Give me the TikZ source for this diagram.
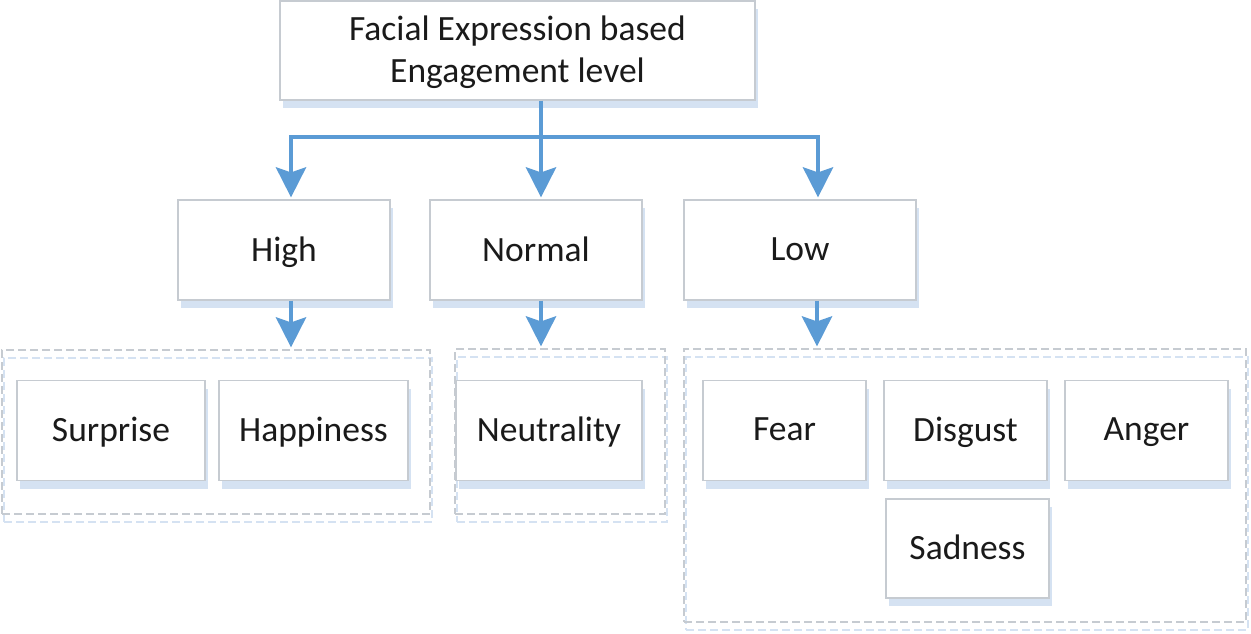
\documentclass[tikz,border=0pt]{standalone}
\usepackage{fontspec}
\setmainfont{Carlito}
\usepackage{xcolor}
\usetikzlibrary{arrows.meta,shadows}
\definecolor{arrowblue}{HTML}{5B9BD5}
\definecolor{shadowblue}{HTML}{D5E2F2}
\definecolor{boxgray}{HTML}{C6CBD1}
\definecolor{textblack}{HTML}{1A1A1A}

\begin{document}
\begin{tikzpicture}[x=1pt,y=-1pt,
  catbox/.style={draw=boxgray,line width=1.2pt,fill=white,inner sep=0pt,
    minimum height=100pt,align=center,text=textblack,
    font=\fontsize{35.5}{42}\selectfont,text depth=0.22em,
    drop shadow={shadow xshift=3pt,shadow yshift=-8pt,fill=shadowblue,opacity=1}},
  grpbox/.style={draw=boxgray,dash pattern=on 8pt off 4pt,line width=1.2pt,inner sep=0pt,
    drop shadow={shadow xshift=2pt,shadow yshift=-8pt,draw=shadowblue,fill=none,
      dash pattern=on 8pt off 4pt,opacity=1}},
  flow/.style={draw=arrowblue,line width=4.5pt},
  flowarrow/.style={flow,-{Stealth[length=30pt,width=30pt,inset=5pt]},shorten >=2pt}]
\useasboundingbox (0,0) rectangle (1251,633);
% groups
\node[grpbox,minimum width=428pt,minimum height=164pt] (highgrp) at (216,432) {};
\node[grpbox,minimum width=210pt,minimum height=165pt] (normgrp) at (560,431.5) {};
\node[grpbox,minimum width=562pt,minimum height=273pt] (lowgrp) at (965,485.5) {};
% top and levels
\node[catbox,minimum width=475pt,minimum height=99pt] (top) at (517.5,50.5) {Facial Expression based\\Engagement level};
\node[catbox,minimum width=212pt] (high) at (284,250) {High};
\node[catbox,minimum width=212pt] (normal) at (536,250) {Normal};
\node[catbox,minimum width=232pt] (low) at (800,250) {Low};
% emotions
\node[catbox,minimum width=188pt] (surprise) at (111,430.5) {Surprise};
\node[catbox,minimum width=189pt] (happy) at (313.5,430.5) {Happiness};
\node[catbox,minimum width=186pt] (neutral) at (549,430.5) {Neutrality};
\node[catbox,minimum width=163pt] (fear) at (784.5,430.5) {Fear};
\node[catbox,minimum width=163pt] (disgust) at (965.5,430.5) {Disgust};
\node[catbox,minimum width=163pt] (anger) at (1146.5,430.5) {Anger};
\node[catbox,minimum width=163pt,minimum height=99pt] (sad) at (967.5,548.5) {Sadness};
% connectors
\coordinate (split) at (541,137);
\draw[flow] (top.south -| split) -- (split);
\draw[flowarrow] (split) -| ([xshift=7pt]high.north);
\draw[flowarrow] (split) -- (split |- normal.north);
\draw[flowarrow] (split) -| ([xshift=18pt]low.north);
\draw[flowarrow] ([xshift=7pt]high.south) -- ([xshift=7pt]high.south |- highgrp.north);
\draw[flowarrow] (split |- normal.south) -- (split |- normgrp.north);
\draw[flowarrow] ([xshift=17pt]low.south) -- ([xshift=17pt]low.south |- lowgrp.north);
\end{tikzpicture}
\end{document}
